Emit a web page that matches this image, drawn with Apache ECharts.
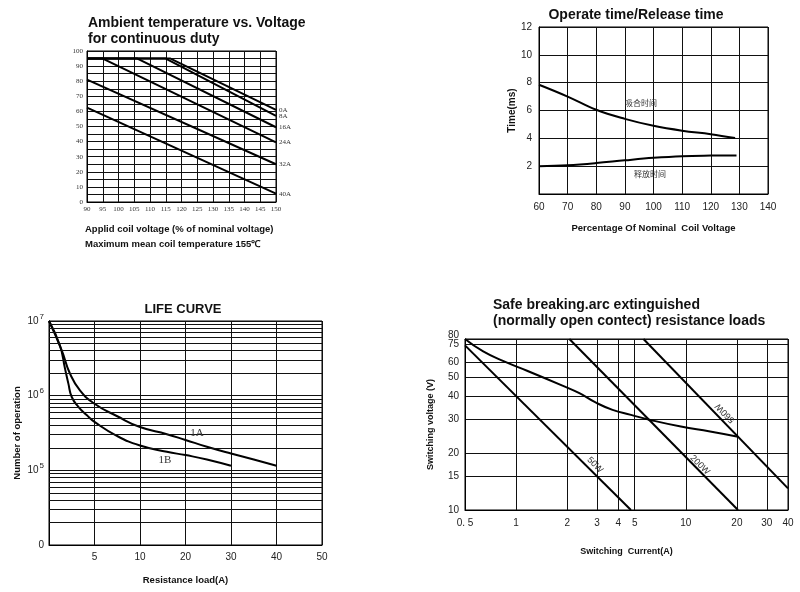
<!DOCTYPE html>
<html><head><meta charset="utf-8">
<script src="https://cdn.jsdelivr.net/npm/echarts@6/dist/echarts.min.js"></script>
<style>html,body{margin:0;padding:0;background:#fff}#c{width:800px;height:592px}</style>
</head><body><div id="c"></div>
<script>
// ---------- Plot 1: Ambient temperature vs. Voltage ----------
const ambNames = ['0A', '8A', '16A', '24A', '32A', '40A'];
const amb0A = [[90, 95], [116.5, 95], [150, 61]];
const amb8A = [[90, 95], [115, 95], [150, 57]];
const amb16A = [[90, 95], [106, 95], [150, 49.5]];
const amb24A = [[90, 95], [95, 95], [150, 39.5]];
const amb32A = [[90, 81], [150, 25]];
const amb40A = [[90, 62.5], [150, 5.5]];

// ---------- Plot 2: Operate time / Release time ----------
const opVoltage = [60, 70, 80, 90, 100, 110, 120, 128.5];
const operateTime = [7.85, 7.0, 6.05, 5.4, 4.9, 4.55, 4.3, 4.02];
const relVoltage = [60, 70, 80, 90, 100, 110, 120, 129];
const releaseTime = [2.0, 2.07, 2.22, 2.42, 2.6, 2.72, 2.76, 2.77];

// ---------- Plot 3: Life curve ----------
const lifeXTicks = [0, 5, 10, 20, 30, 40, 50];
const life1A = [[0, 1e7], [1.4, 4.05e6], [2.3, 1.98e6], [3.4, 1.18e6], [5, 7.8e5], [7.5, 5.3e5], [10, 3.8e5], [15.9, 3.05e5], [20, 2.55e5], [24.7, 2.07e5], [30, 1.68e5], [35, 1.4e5], [40, 1.15e5]];
const life1B = [[0, 1e7], [1.2, 4.7e6], [1.76, 2.3e6], [2.13, 1.45e6], [2.5, 9.6e5], [3.23, 7.1e5], [4.14, 5.5e5], [5, 4.46e5], [7.45, 2.9e5], [10, 2.15e5], [15.9, 1.77e5], [20, 1.6e5], [24.7, 1.4e5], [30, 1.15e5]];
const lifeMinor = [2e4, 3e4, 4e4, 5e4, 6e4, 7e4, 8e4, 9e4, 2e5, 3e5, 4e5, 5e5, 6e5, 7e5, 8e5, 9e5, 2e6, 3e6, 4e6, 5e6, 6e6, 7e6, 8e6, 9e6];

// ---------- Plot 4: Safe breaking ----------
const brkXTicks = [0.5, 1, 2, 3, 4, 5, 10, 20, 30, 40];
const brkYTicks = [10, 15, 20, 30, 40, 50, 60, 75, 80];
const brk50W = [[0.5, 74], [4.75, 10]];
const brk200W = [[2.06, 80], [20.3, 10]];
const brk560W = [[5.63, 80], [40, 13]];
const brkArc = [[0.5, 80], [0.64, 68.8], [0.85, 60.9], [1.16, 54.4], [1.86, 45.5], [2.36, 41.4], [2.92, 37.1], [3.7, 33.8], [4.75, 31.8], [6.17, 29.9], [9.35, 27.6], [13.9, 26.0], [20.3, 24.4]];

function ampToPos(a) {
  for (let i = 0; i < lifeXTicks.length - 1; i++) {
    const a0 = lifeXTicks[i], a1 = lifeXTicks[i + 1];
    if (a <= a1) return i + (a - a0) / (a1 - a0);
  }
  return lifeXTicks.length - 1;
}

const BLK = '#000';
const gridLine = { show: true, lineStyle: { color: '#111', width: 1, type: 'solid' } };
const axLine = { show: true, lineStyle: { color: '#000', width: 1 } };
const curve = { color: BLK, width: 2 };
const sans = 'Liberation Sans';
const brkTopTick = brkYTicks[brkYTicks.length - 1];

const chart = echarts.init(document.getElementById('c'), null, { renderer: 'canvas' });

const ambData = [amb0A, amb8A, amb16A, amb24A, amb32A, amb40A];

const option = {
  animation: false,
  backgroundColor: '#fff',
  grid: [
    { left: 87, top: 51, width: 189, height: 151, show: true, borderColor: BLK, borderWidth: 1 },
    { left: 539, top: 27, width: 229, height: 167, show: true, borderColor: BLK, borderWidth: 1 },
    { left: 49, top: 321, width: 273, height: 224, show: true, borderColor: BLK, borderWidth: 1 },
    { left: 465, top: 339, width: 323, height: 171, show: true, borderColor: BLK, borderWidth: 1 }
  ],
  xAxis: [
    { gridIndex: 0, type: 'value', min: 90, max: 150, interval: 5, axisLine: axLine, axisTick: { show: false },
      axisLabel: { fontFamily: 'Liberation Serif', fontSize: 7, color: '#333', margin: 4 }, splitLine: gridLine },
    { gridIndex: 1, type: 'value', min: 60, max: 140, interval: 10, axisLine: axLine, axisTick: { show: false },
      name: 'Percentage Of Nominal  Coil Voltage', nameLocation: 'middle', nameGap: 29,
      nameTextStyle: { fontFamily: sans, fontWeight: 'bold', fontSize: 9.5, color: '#111' },
      axisLabel: { fontFamily: sans, fontSize: 10, color: '#222', margin: 8 }, splitLine: gridLine },
    { gridIndex: 2, type: 'value', min: 0, max: 6, interval: 1, axisLine: axLine, axisTick: { show: false },
      name: 'Resistance load(A)', nameLocation: 'middle', nameGap: 30,
      nameTextStyle: { fontFamily: sans, fontWeight: 'bold', fontSize: 9.5, color: '#111' },
      axisLabel: { fontFamily: sans, fontSize: 10, color: '#222', margin: 7,
        formatter: v => (v === 0 ? '' : String(lifeXTicks[Math.round(v)])) }, splitLine: gridLine },
    { gridIndex: 3, type: 'log', logBase: 10, min: 0.5, max: 40, axisLine: axLine,
      axisTick: { show: false, customValues: brkXTicks },
      name: 'Switching  Current(A)', nameLocation: 'middle', nameGap: 37,
      nameTextStyle: { fontFamily: sans, fontWeight: 'bold', fontSize: 9, color: '#111' },
      axisLabel: { customValues: brkXTicks, showMinLabel: true, showMaxLabel: true, hideOverlap: false,
        fontFamily: sans, fontSize: 10, color: '#222', margin: 8,
        formatter: v => (Math.abs(v - 0.5) < 1e-6 ? '0. 5' : String(Math.round(v))) }, splitLine: gridLine }
  ],
  yAxis: [
    { gridIndex: 0, type: 'value', min: 0, max: 100, interval: 5, axisLine: axLine, axisTick: { show: false },
      axisLabel: { fontFamily: 'Liberation Serif', fontSize: 7, color: '#333', margin: 4,
        formatter: v => (v % 10 === 0 ? String(v) : '') }, splitLine: gridLine },
    { gridIndex: 1, type: 'value', min: 0, max: 12, interval: 2, axisLine: axLine, axisTick: { show: false },
      name: 'Time(ms)', nameLocation: 'middle', nameGap: 20,
      nameTextStyle: { fontFamily: sans, fontWeight: 'bold', fontSize: 10, color: '#111' },
      axisLabel: { fontFamily: sans, fontSize: 10, color: '#222', margin: 7,
        formatter: v => (v === 0 ? '' : String(v)) }, splitLine: gridLine },
    { gridIndex: 2, type: 'log', logBase: 10, min: 1e4, max: 1e7, axisLine: axLine, axisTick: { show: false },
      name: 'Number of operation', nameLocation: 'middle', nameGap: 27,
      nameTextStyle: { fontFamily: sans, fontWeight: 'bold', fontSize: 9.5, color: '#111' },
      axisLabel: { fontFamily: sans, fontSize: 10, color: '#222', margin: 5,
        formatter: v => {
          const e = Math.round(Math.log10(v));
          return e === 4 ? '{b|0}' : '{b|10}{s|' + e + '}';
        },
        rich: { b: { fontFamily: sans, fontSize: 10, color: '#222' },
                s: { fontFamily: sans, fontSize: 8, color: '#222', padding: [0, 0, 9, 1] } } },
      splitLine: gridLine },
    { gridIndex: 3, type: 'log', logBase: 10, min: 10, max: 80, axisLine: axLine,
      axisTick: { show: false, customValues: brkYTicks },
      name: 'Switching voltage (V)', nameLocation: 'middle', nameGap: 30,
      nameTextStyle: { fontFamily: sans, fontWeight: 'bold', fontSize: 9, color: '#111' },
      axisLabel: { customValues: brkYTicks.filter(v => v !== brkTopTick), showMinLabel: true, showMaxLabel: true, hideOverlap: false,
        fontFamily: sans, fontSize: 10, color: '#222', margin: 6,
        formatter: v => String(Math.round(v)) },
      splitLine: gridLine }
  ],
  graphic: [
    { type: 'text', x: 88, y: 15, style: { text: 'Ambient temperature vs. Voltage\nfor continuous duty', fontFamily: sans, fontWeight: 'bold', fontSize: 14, lineHeight: 16, fill: '#111' } },
    { type: 'text', x: 85, y: 222, style: { text: 'Applid coil voltage (% of nominal voltage)\nMaximum mean coil temperature 155℃', fontFamily: sans, fontWeight: 'bold', fontSize: 9.5, lineHeight: 15, fill: '#111' } },
    { type: 'text', x: 636, y: 15, style: { text: 'Operate time/Release time', fontFamily: sans, fontWeight: 'bold', fontSize: 14, fill: '#111', align: 'center', verticalAlign: 'middle' } },
    { type: 'text', x: 183, y: 309, style: { text: 'LIFE CURVE', fontFamily: sans, fontWeight: 'bold', fontSize: 13, fill: '#111', align: 'center', verticalAlign: 'middle' } },
    { type: 'text', x: 493, y: 297, style: { text: 'Safe breaking.arc extinguished\n(normally open contect) resistance loads', fontFamily: sans, fontWeight: 'bold', fontSize: 14, lineHeight: 16, fill: '#111' } }
  ],
  series: [
    ...ambData.map((d, i) => ({
      type: 'line', name: ambNames[i], xAxisIndex: 0, yAxisIndex: 0, data: d, symbol: 'none',
      lineStyle: curve, silent: true,
      endLabel: { show: true, formatter: ambNames[i], fontFamily: 'Liberation Serif', fontSize: 7, color: '#333', distance: 3 }
    })),
    { type: 'line', xAxisIndex: 1, yAxisIndex: 1, data: opVoltage.map((v, i) => [v, operateTime[i]]), symbol: 'none', smooth: 0.4, lineStyle: curve,
      markPoint: { symbolSize: 0, data: [{ coord: [95.6, 6.54], value: '吸合时间' }],
        label: { show: true, formatter: '吸合时间', fontFamily: 'Noto Sans CJK SC', fontSize: 8, color: '#333' } } },
    { type: 'line', xAxisIndex: 1, yAxisIndex: 1, data: relVoltage.map((v, i) => [v, releaseTime[i]]), symbol: 'none', smooth: 0.4, lineStyle: curve,
      markPoint: { symbolSize: 0, data: [{ coord: [98.8, 1.44], value: '释放时间' }],
        label: { show: true, formatter: '释放时间', fontFamily: 'Noto Sans CJK SC', fontSize: 8, color: '#333' } } },
    { type: 'line', xAxisIndex: 2, yAxisIndex: 2, data: life1A.map(([a, n]) => [ampToPos(a), n]), symbol: 'none', smooth: 0.5, lineStyle: curve,
      markPoint: { symbolSize: 0, data: [{ coord: [ampToPos(22.5), 3.16e5], value: '1A' }],
        label: { show: true, formatter: '1A', fontFamily: 'Liberation Serif', fontSize: 11, color: '#333' } },
      markLine: { silent: true, symbol: 'none', label: { show: false }, lineStyle: { color: '#111', width: 1, type: 'solid' },
        data: lifeMinor.map(v => ({ yAxis: v })) } },
    { type: 'line', xAxisIndex: 2, yAxisIndex: 2, data: life1B.map(([a, n]) => [ampToPos(a), n]), symbol: 'none', smooth: 0.5, lineStyle: curve,
      markPoint: { symbolSize: 0, data: [{ coord: [ampToPos(15.5), 1.37e5], value: '1B' }],
        label: { show: true, formatter: '1B', fontFamily: 'Liberation Serif', fontSize: 11, color: '#333' } } },
    { type: 'line', xAxisIndex: 3, yAxisIndex: 3, data: brk50W, symbol: 'none', lineStyle: curve,
      markPoint: { symbolSize: 0, data: [{ coord: [2.92, 17.3], value: '50W' }],
        label: { show: true, formatter: '50W', rotate: -45, fontFamily: sans, fontSize: 9, color: '#333' } } },
    { type: 'line', xAxisIndex: 3, yAxisIndex: 3, data: brk200W, symbol: 'none', lineStyle: curve,
      markPoint: { symbolSize: 0, data: [{ coord: [12.1, 17.3], value: '200W' }],
        label: { show: true, formatter: '200W', rotate: -45, fontFamily: sans, fontSize: 9, color: '#333' } } },
    { type: 'line', xAxisIndex: 3, yAxisIndex: 3, data: brk560W, symbol: 'none', lineStyle: curve,
      markPoint: { symbolSize: 0, data: [{ coord: [17.0, 32.5], value: '560W' }],
        label: { show: true, formatter: '560W', rotate: 135, fontFamily: sans, fontSize: 9, color: '#333' } } },
    { type: 'line', xAxisIndex: 3, yAxisIndex: 3, data: brkArc, symbol: 'none', smooth: 0.5, lineStyle: curve,
      markPoint: { symbolSize: 0, data: [{ coord: [brkXTicks[0], brkTopTick], value: brkTopTick }],
        label: { show: true, formatter: String(brkTopTick), position: 'left', distance: 6, offset: [0, -4],
          fontFamily: sans, fontSize: 10, color: '#222' } } }
  ]
};
chart.setOption(option);
</script>
</body></html>
